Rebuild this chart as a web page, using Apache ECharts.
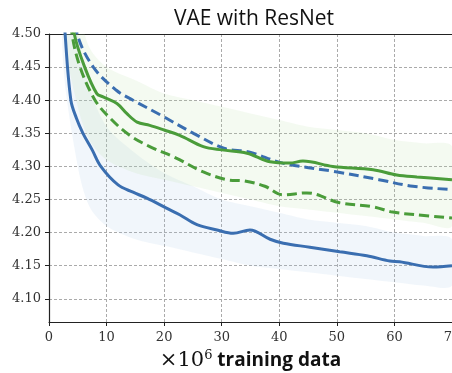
<!DOCTYPE html>
<html><head><meta charset="utf-8">
<script src="https://cdn.jsdelivr.net/npm/echarts@6/dist/echarts.min.js"></script>
<style>html,body{margin:0;padding:0;background:#fff}#c{width:452px;height:373px}</style>
</head><body><div id="c"></div>
<script>
// Data (x in 10^6 training data, y = loss)
const solidBlue = [[2.3,4.58],[2.8,4.50],[3.8,4.40],[4.8,4.372],[5.9,4.35],[7.5,4.325],[9.0,4.30],[12.0,4.272],[14.6,4.261],[17.0,4.252],[20.4,4.237],[22.7,4.227],[25.7,4.212],[29.2,4.204],[32.0,4.199],[34.9,4.204],[38.4,4.190],[40.7,4.184],[45.3,4.178],[50.5,4.171],[55.2,4.165],[59.2,4.157],[60.9,4.156],[66.7,4.148],[70,4.150]];
const solidGreen = [[3.8,4.56],[4.4,4.50],[6.2,4.45],[8.3,4.41],[9.4,4.405],[11.8,4.395],[13.5,4.38],[15.3,4.367],[17.5,4.362],[20.0,4.355],[22.7,4.347],[26.8,4.330],[30.0,4.325],[34.4,4.320],[38.4,4.307],[41.8,4.305],[44.1,4.308],[49.3,4.300],[56.3,4.295],[60.4,4.287],[63.9,4.284],[70,4.280]];
const dashedBlue = [[4.2,4.56],[4.9,4.50],[7.7,4.45],[11.7,4.415],[14.6,4.400],[19.3,4.378],[25.1,4.350],[30.5,4.327],[34.7,4.322],[40.6,4.305],[49.8,4.292],[57.3,4.280],[63.2,4.270],[70,4.265]];
const dashedGreen = [[3.5,4.56],[4.0,4.50],[5.4,4.45],[8.0,4.40],[10.6,4.373],[14.0,4.347],[17.5,4.330],[22.0,4.313],[26.7,4.292],[30.9,4.280],[34.0,4.278],[37.5,4.270],[40.6,4.257],[44.8,4.260],[50.5,4.245],[56.3,4.239],[59.7,4.231],[63.9,4.227],[70,4.222]];
// faint raw-noise envelopes
const bandT      = [2.5, 5, 7, 10, 15, 20, 25, 30, 35, 40, 45, 50, 55, 60, 65, 70];
const blueLo     = [4.45,4.30,4.24,4.21,4.19,4.18,4.17,4.16,4.15,4.145,4.14,4.135,4.13,4.125,4.12,4.12];
const blueHi     = [4.60,4.50,4.42,4.36,4.32,4.29,4.27,4.25,4.24,4.23,4.22,4.215,4.21,4.20,4.195,4.19];
const greenLo    = [4.50,4.39,4.34,4.31,4.29,4.28,4.27,4.26,4.25,4.24,4.235,4.23,4.225,4.22,4.215,4.21];
const greenHi    = [4.60,4.54,4.48,4.45,4.43,4.41,4.40,4.39,4.38,4.37,4.36,4.355,4.35,4.34,4.335,4.33];
const yTicks = [4.10,4.15,4.20,4.25,4.30,4.35,4.40,4.45,4.50];

const BLUE = '#3a6eb0', GREEN = '#4a9c3a';

function band(lo, hi, color) {
  return {
    type: 'custom', clip: true, silent: true, z: 1,
    data: [0],
    renderItem: function (params, api) {
      const pts = [];
      for (let i = 0; i < bandT.length; i++) pts.push(api.coord([bandT[i], hi[i]]));
      for (let i = bandT.length - 1; i >= 0; i--) pts.push(api.coord([bandT[i], lo[i]]));
      return { type: 'polygon', shape: { points: pts, smooth: 0.3 }, style: { fill: color } };
    }
  };
}
function line(data, color, dashed) {
  return {
    type: 'line', data: data, smooth: 0.35, symbol: 'none', clip: true, z: 3,
    lineStyle: { color: color, width: 3, type: dashed ? [10, 5] : 'solid' }
  };
}

const chart = echarts.init(document.getElementById('c'), null, { renderer: 'canvas' });
chart.setOption({
  animation: false,
  backgroundColor: '#fff',
  title: {
    text: 'VAE with ResNet', left: 249, top: 4, textAlign: 'center',
    textStyle: { fontFamily: 'Open Sans', fontWeight: 'normal', fontSize: 21, color: '#111' }
  },
  grid: { left: 49, right: 0, top: 34, bottom: 51, outerBoundsMode: 'none', containLabel: false },
  xAxis: [{
    type: 'value', min: 0, max: 70, interval: 10,
    axisLine: { show: true, lineStyle: { color: '#222', width: 1.2 } },
    axisTick: { show: true, length: 4, lineStyle: { color: '#222' } },
    axisLabel: { fontFamily: 'DejaVu Serif', fontSize: 13, color: '#333', margin: 9 },
    splitLine: { show: true, lineStyle: { color: '#aaa', type: [3, 2], width: 1 } },
    name: '{a|\u00d710}{b|6}{c| training data}', nameLocation: 'middle', nameGap: 26,
    nameTextStyle: {
      rich: {
        a: { fontFamily: 'DejaVu Serif', fontSize: 21, color: '#111' },
        b: { fontFamily: 'DejaVu Serif', fontSize: 13, color: '#111', verticalAlign: 'top', padding: [0,0,10,0] },
        c: { fontFamily: 'Open Sans', fontWeight: 'bold', fontSize: 19, color: '#111' }
      }
    }
  }, {
    type: 'value', min: 0, max: 70, position: 'top',
    axisLine: { show: true, onZero: false, lineStyle: { color: '#222', width: 1.2 } },
    axisTick: { show: false }, axisLabel: { show: false }, splitLine: { show: false }
  }],
  yAxis: {
    type: 'value', min: 4.065, max: 4.50,
    axisLine: { show: true, lineStyle: { color: '#222', width: 1.2 } },
    axisTick: { show: true, length: 4, lineStyle: { color: '#222' }, customValues: yTicks },
    axisLabel: { fontFamily: 'DejaVu Serif', fontSize: 13, color: '#333', margin: 8,
      customValues: yTicks, formatter: function (v) { return v.toFixed(2); } },
    splitLine: { show: true, lineStyle: { color: '#aaa', type: [3, 2], width: 1 } }
  },
  series: [
    band(blueLo, blueHi, 'rgba(170,200,232,0.16)'),
    band(greenLo, greenHi, 'rgba(180,220,160,0.15)'),
    line(solidBlue, BLUE, false),
    line(dashedBlue, BLUE, true),
    line(solidGreen, GREEN, false),
    line(dashedGreen, GREEN, true)
  ]
});
</script></body></html>
